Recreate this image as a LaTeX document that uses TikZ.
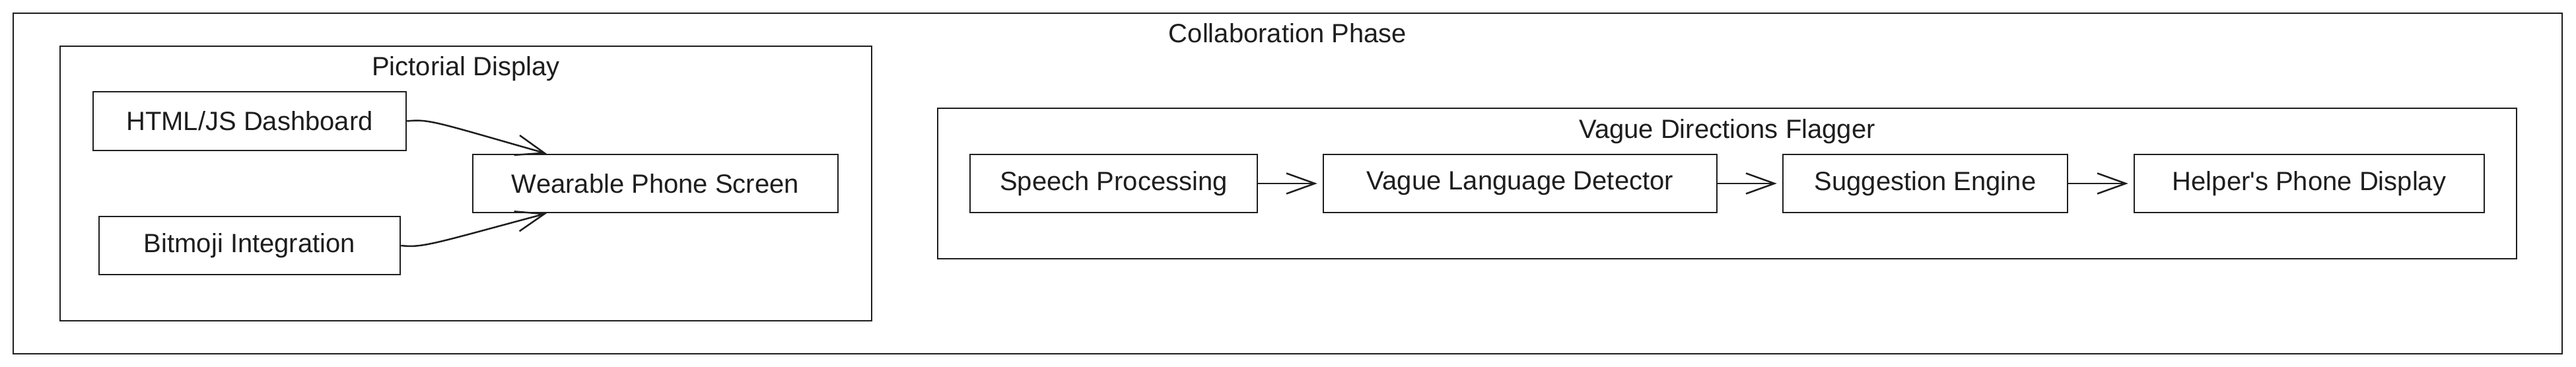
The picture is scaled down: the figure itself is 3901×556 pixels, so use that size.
\documentclass[tikz,border=0pt]{standalone}
\usepackage{fontspec}
\setmainfont{Liberation Sans}
\usetikzlibrary{arrows.meta}
\definecolor{ink}{HTML}{1E1E1E}
\begin{document}
\begin{tikzpicture}[x=1pt,y=-1pt,
  box/.style={draw=ink, line width=2.5pt, minimum height=88pt, inner sep=0pt, text=ink, font=\fontsize{40}{48}\selectfont},
  frame/.style={draw=ink, line width=2.5pt, inner sep=0pt},
  title/.style={font=\fontsize{40}{48}\selectfont, text=ink, anchor=base},
  arr/.style={draw=ink, line width=2.5pt, -{Straight Barb[length=43pt,width=31pt]}},
  sarr/.style={arr, shorten >=8pt}
]
\useasboundingbox (0,0) rectangle (3901,556);
\fill[white] (0,0) rectangle (3901,556);

% frames
\node[frame, minimum width=3860pt, minimum height=516pt] (outer) at (1950,278) {};
\node[title] (outerT) at (1950,65) {Collaboration Phase};

\node[frame, minimum width=1229pt, minimum height=416pt] (pict) at (705.5,278) {};
\node[title] (pictT) at (705.5,115) {Pictorial Display};

\node[frame, minimum width=2391pt, minimum height=228pt] (flag) at (2615.5,278) {};
\node[title] (flagT) at (2615.5,210) {Vague Directions Flagger};

% pictorial display
\node[box, minimum width=474pt, minimum height=89pt] (html) at (378,183.5) {HTML/JS Dashboard};
\node[box, minimum width=456pt] (bit) at (378,372) {Bitmoji Integration};
\node[box, minimum width=553pt] (wear) at (992.5,278) {Wearable Phone Screen};

\draw[arr] (html.east) .. controls (650,180) and (660,185) .. ([xshift=113pt]wear.north west);
\draw[arr] (bit.east) .. controls (640,376) and (660,368) .. ([xshift=113pt]wear.south west);

% flagger
\node[box, minimum width=435pt] (speech) at (1686.5,278) {Speech Processing};
\node[box, minimum width=596pt] (vld) at (2302,278) {Vague Language Detector};
\node[box, minimum width=431pt] (sugg) at (2915.5,278) {Suggestion Engine};
\node[box, minimum width=530pt] (help) at (3497,278) {Helper\textquotesingle s Phone Display};

\draw[sarr] (speech) -- (vld);
\draw[sarr] (vld) -- (sugg);
\draw[sarr] (sugg) -- (help);
\end{tikzpicture}
\end{document}
